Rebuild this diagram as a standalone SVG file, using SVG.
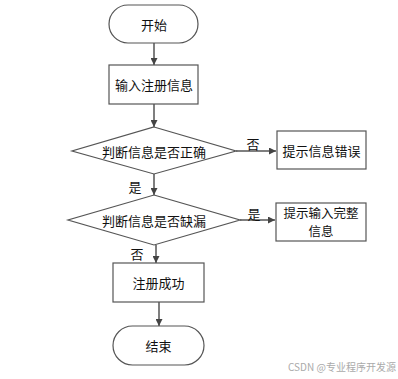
<svg xmlns="http://www.w3.org/2000/svg" width="398" height="379" viewBox="0 0 398 379">
<style>
.n{fill:#fff;stroke:#555;stroke-width:1.2}
.t{font-family:"Noto Sans CJK SC","Liberation Sans",sans-serif;font-size:13px;fill:#111;text-anchor:middle;dominant-baseline:central}
.s{font-size:12.5px}
.c{stroke:#555;stroke-width:1.5;fill:none;marker-end:url(#a)}
.w{font-family:"Noto Sans CJK SC","Liberation Sans",sans-serif;font-size:10px;fill:#aaa}
</style>
<defs>
<marker id="a" viewBox="0 0 10 10" refX="10" refY="5" markerWidth="7" markerHeight="7" markerUnits="userSpaceOnUse" orient="auto">
<path d="M0,0L10,5L0,10z" fill="#444"/>
</marker>
</defs>
<rect width="398" height="379" fill="#fff"/>
<g id="connectors">
<path class="c" d="M154,43V65"/>
<path class="c" d="M154,104V127"/>
<path class="c" d="M236,151H276"/>
<path class="c" d="M154,174V195"/>
<path class="c" d="M240,220H275"/>
<path class="c" d="M156,245V263"/>
<path class="c" d="M159,302V326"/>
<text class="t" x="253" y="143">否</text>
<text class="t" x="135" y="186">是</text>
<text class="t" x="254" y="213">是</text>
<text class="t" x="137" y="253">否</text>
</g>
<g id="start"><rect class="n" x="109" y="5" width="89" height="38" rx="19"/><text class="t" x="154" y="24">开始</text></g>
<g id="input"><rect class="n" x="109" y="65" width="89" height="39"/><text class="t" x="154" y="84.5">输入注册信息</text></g>
<g id="check1"><polygon class="n" points="154,127 236,151 154,174 72,151"/><text class="t" x="154" y="151">判断信息是否正确</text></g>
<g id="err"><rect class="n" x="277" y="131" width="89" height="38"/><text class="t" x="321.5" y="150">提示信息错误</text></g>
<g id="check2"><polygon class="n" points="154,195 240,220 154,245 68,220"/><text class="t" x="154" y="220">判断信息是否缺漏</text></g>
<g id="complete"><rect class="n" x="276" y="203" width="90" height="38"/><text class="t s" x="321" y="212.5">提示输入完整</text><text class="t s" x="321" y="230">信息</text></g>
<g id="success"><rect class="n" x="113" y="263" width="91" height="39"/><text class="t" x="158.5" y="282.5">注册成功</text></g>
<g id="end"><rect class="n" x="113" y="326" width="91" height="39" rx="19.5"/><text class="t" x="158.5" y="345.5">结束</text></g>
<text class="w" x="288" y="371">CSDN @专业程序开发源</text>
</svg>
